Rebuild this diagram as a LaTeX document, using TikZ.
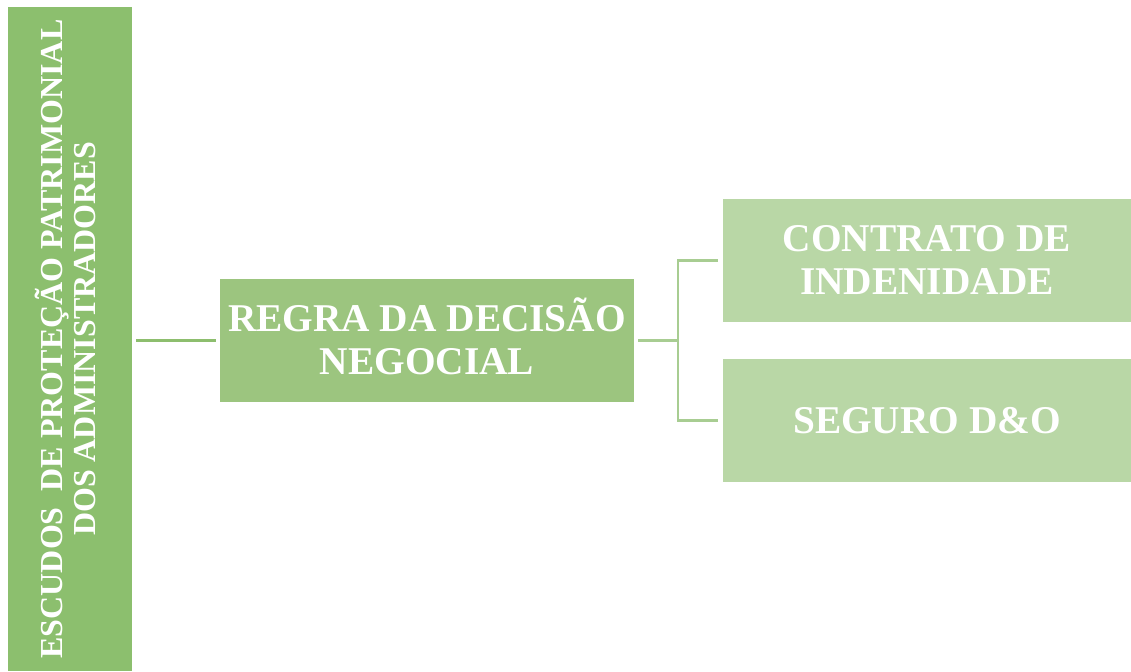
\documentclass[tikz,border=0pt]{standalone}
\usepackage{fontspec}
\setmainfont{Liberation Serif}
\definecolor{escudo}{RGB}{140,191,110}
\definecolor{regra}{RGB}{156,197,127}
\definecolor{claro}{RGB}{185,215,166}
\definecolor{linhaA}{RGB}{141,190,110}
\definecolor{linhaB}{RGB}{168,205,146}
\tikzset{
  caixa/.style={inner sep=0pt, outer sep=0pt, text=white, align=center,
    font=\bfseries\fontsize{29.5}{32.25}\selectfont},
  liga/.style={line width=1.9pt, shorten <=3pt, shorten >=3pt}
}
\begin{document}
\begin{tikzpicture}[x=0.75pt,y=-0.75pt]
  \useasboundingbox (0,0) rectangle (1131,671);
  \node[caixa, fill=escudo, minimum width=124*0.75pt, minimum height=664*0.75pt] (escudos) at (70,339) {};
  \node[caixa, rotate=90, font=\bfseries\fontsize{24}{25}\selectfont] at ([xshift=-3.5pt]escudos.center)
    {ESCUDOS\ \ DE PROTEÇÃO PATRIMONIAL\\DOS ADMINISTRADORES};
  \node[caixa, fill=regra, minimum width=414*0.75pt, minimum height=123*0.75pt] (regra) at (427,340.5)
    {REGRA DA DECISÃO\\NEGOCIAL\rule[-6pt]{0pt}{6pt}};
  \node[caixa, fill=claro, minimum width=408*0.75pt, minimum height=123*0.75pt] (contrato) at (927,260.5)
    {CONTRATO DE\\INDENIDADE};
  \node[caixa, fill=claro, minimum width=408*0.75pt, minimum height=123*0.75pt] (seguro) at (927,420.5)
    {SEGURO D\&O};

  \draw[liga, draw=linhaA] (escudos.east |- regra.west) -- (regra.west);
  \coordinate (garfo) at (678,340.5);
  \draw[liga, draw=linhaB, shorten >=0pt] (regra.east) -- (garfo);
  \draw[liga, draw=linhaB, shorten <=0pt, shorten >=4pt] (garfo) |- (contrato.west);
  \draw[liga, draw=linhaB, shorten <=0pt, shorten >=4pt] (garfo) |- (seguro.west);
\end{tikzpicture}
\end{document}
